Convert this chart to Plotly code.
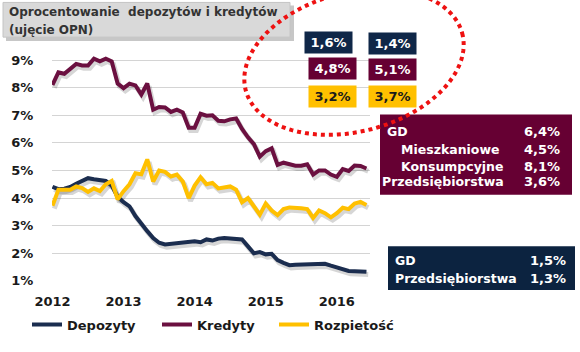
import numpy as np
import plotly.graph_objects as go

# ---------------- data (monthly, Jan 2012 - Jun 2016) ----------------
years = ["2012", "2013", "2014", "2015", "2016"]
depozyty = [4.41, 4.32, 4.34, 4.40, 4.52, 4.64, 4.72, 4.68, 4.66, 4.62, 4.45, 4.05,
            3.85, 3.70, 3.35, 3.05, 2.80, 2.55, 2.38, 2.32, 2.34, 2.37, 2.40, 2.42,
            2.43, 2.40, 2.50, 2.46, 2.53, 2.55, 2.54, 2.53, 2.50, 2.25, 2.00, 2.04,
            1.96, 1.98, 1.75, 1.65, 1.57, 1.58, 1.59, 1.59, 1.59, 1.61, 1.62, 1.55,
            1.48, 1.40, 1.36, 1.35, 1.34, 1.33]
kredyty = [8.10, 8.55, 8.50, 8.70, 8.86, 8.80, 8.80, 9.05, 8.95, 9.05, 8.95, 8.15,
           7.98, 8.14, 8.08, 7.75, 8.15, 7.20, 7.30, 7.28, 7.12, 7.20, 7.10, 6.55,
           6.55, 7.05, 6.98, 7.00, 6.80, 6.78, 6.85, 6.88, 6.50, 6.20, 5.95, 5.50,
           5.70, 5.80, 5.20, 5.28, 5.22, 5.17, 5.17, 5.22, 4.85, 5.00, 5.00, 4.85,
           4.77, 5.05, 4.98, 5.18, 5.16, 5.07]
rozpietosc = [3.72, 4.30, 4.30, 4.30, 4.42, 4.36, 4.22, 4.35, 4.25, 4.50, 4.62, 3.95,
              4.25, 4.50, 4.90, 4.86, 5.40, 4.60, 5.00, 4.95, 4.78, 4.85, 4.60, 4.00,
              4.45, 4.75, 4.50, 4.55, 4.35, 4.37, 4.42, 4.30, 3.85, 4.00, 3.70, 3.40,
              3.80, 3.55, 3.38, 3.60, 3.66, 3.66, 3.63, 3.60, 3.28, 3.55, 3.45, 3.30,
              3.45, 3.65, 3.60, 3.80, 3.86, 3.75]
series_names = ["Depozyty", "Kredyty", "Rozpietość"]
series_colors = ["#1b2d4f", "#6b1040", "#ffc000"]

small_boxes = [("1,6%", "#0f2748", "white"), ("1,4%", "#0f2748", "white"),
               ("4,8%", "#660033", "white"), ("5,1%", "#660033", "white"),
               ("3,2%", "#ffc000", "#1a1a1a"), ("3,7%", "#ffc000", "#1a1a1a")]
kred_labels = ["GD", "Mieszkaniowe", "Konsumpcyjne", "Przedsiębiorstwa"]
kred_values = ["6,4%", "4,5%", "8,1%", "3,6%"]
dep_labels = ["GD", "Przedsiębiorstwa"]
dep_values = ["1,5%", "1,3%"]

# ---------------- geometry ----------------
W, H = 580, 352
L, R, T, B = 52, 210, 52, 69
PW, PH = W - L - R, H - T - B
FONT = "DejaVu Sans"


def px(xp):
    return (xp - L) / PW


def py(yp):
    return (H - B - yp) / PH


x = list(range(len(depozyty)))
tickvals = [12 * k for k in range(len(years))]

fig = go.Figure()
all_series = [depozyty, kredyty, rozpietosc]
# soft shadows
for vals in all_series:
    fig.add_trace(go.Scatter(x=[v + 0.3 for v in x], y=[v - 0.1 for v in vals],
                             mode="lines", line=dict(color="rgba(0,0,0,0.16)", width=5),
                             showlegend=False, hoverinfo="skip"))
legend_ids = ["legend", "legend2", "legend3"]
for vals, name, col, lg in zip(all_series, series_names, series_colors, legend_ids):
    fig.add_trace(go.Scatter(x=x, y=vals, mode="lines", name=name,
                             line=dict(color=col, width=4), legend=lg))

shapes = []
# title box with shadow
shapes.append(dict(type="rect", xref="paper", yref="paper", x0=px(6), x1=px(294),
                   y0=py(41), y1=py(5), fillcolor="rgba(0,0,0,0.22)", line=dict(width=0),
                   layer="above"))
shapes.append(dict(type="rect", xref="paper", yref="paper", x0=px(3), x1=px(290),
                   y0=py(37), y1=py(2), fillcolor="#d9d9d9",
                   line=dict(color="#c4c4c4", width=1), layer="above"))
# maroon and navy boxes
shapes.append(dict(type="rect", xref="paper", yref="paper", x0=px(380), x1=px(572),
                   y0=py(196), y1=py(115), fillcolor="#660033", line=dict(width=0),
                   layer="above"))
shapes.append(dict(type="rect", xref="paper", yref="paper", x0=px(388), x1=px(575),
                   y0=py(292), y1=py(248), fillcolor="#0c2340", line=dict(width=0),
                   layer="above"))
# dotted ellipse
t = np.linspace(0, 2 * np.pi, 181)
cx, cy, a, b, th = 354, 62, 112, 70, np.deg2rad(-15)
ex = cx + a * np.cos(t) * np.cos(th) - b * np.sin(t) * np.sin(th)
ey = cy + a * np.cos(t) * np.sin(th) + b * np.sin(t) * np.cos(th)
path = "M" + " L".join(f"{px(u):.4f},{py(v):.4f}" for u, v in zip(ex, ey)) + " Z"
shapes.append(dict(type="path", xref="paper", yref="paper", path=path,
                   line=dict(color="#ee1111", width=4, dash="4px,4px"), layer="above"))

ann = []
ann.append(dict(text="Oprocentowanie  depozytów i kredytów", x=px(7), y=py(12),
                xanchor="left", yanchor="middle"))
ann.append(dict(text="(ujęcie OPN)", x=px(7), y=py(30), xanchor="left", yanchor="middle"))
for a_ in ann:
    a_.update(xref="paper", yref="paper", showarrow=False,
              font=dict(family=FONT, size=12, color="#333333", weight="bold"))

box_centers = [(328, 42), (392, 43), (332, 69), (392, 70), (332, 97), (392, 97)]
for (txt, bg, fc), (bx, by) in zip(small_boxes, box_centers):
    ann.append(dict(text=txt, x=px(bx), y=py(by), xref="paper", yref="paper",
                    showarrow=False, bgcolor=bg, width=47, height=21, borderpad=0,
                    xanchor="center", yanchor="middle",
                    font=dict(family=FONT, size=13, color=fc, weight="bold")))

kred_rows = [132, 150, 167, 183]
kred_pos = [(385, "left"), (450, "center"), (452, "center"), (443, "center")]
for lab, val, yy, (xx, anc) in zip(kred_labels, kred_values, kred_rows, kred_pos):
    ann.append(dict(text=lab, x=px(xx), y=py(yy), xanchor=anc, yanchor="middle",
                    xref="paper", yref="paper", showarrow=False,
                    font=dict(family=FONT, size=12.5, color="white", weight="bold")))
    ann.append(dict(text=val, x=px(562), y=py(yy), xanchor="right", yanchor="middle",
                    xref="paper", yref="paper", showarrow=False,
                    font=dict(family=FONT, size=13, color="white", weight="bold")))

for lab, val, yy in zip(dep_labels, dep_values, [262, 280]):
    ann.append(dict(text=lab, x=px(393), y=py(yy), xanchor="left", yanchor="middle",
                    xref="paper", yref="paper", showarrow=False,
                    font=dict(family=FONT, size=12.5, color="white", weight="bold")))
    ann.append(dict(text=val, x=px(568), y=py(yy), xanchor="right", yanchor="middle",
                    xref="paper", yref="paper", showarrow=False,
                    font=dict(family=FONT, size=13, color="white", weight="bold")))

legfont = dict(family=FONT, size=13, color="#1a1a1a", weight="bold")
legcommon = dict(orientation="h", yanchor="middle", xanchor="left", font=legfont,
                 bgcolor="rgba(0,0,0,0)", borderwidth=0, y=py(327))

fig.update_layout(
    width=W, height=H, margin=dict(l=L, r=R, t=T, b=B, pad=0),
    paper_bgcolor="white", plot_bgcolor="white",
    font=dict(family=FONT),
    xaxis=dict(range=[-0.08, 53.6], tickmode="array", tickvals=tickvals, ticktext=years,
               showgrid=False, zeroline=False, showline=False,
               ticks="outside", ticklen=8, tickcolor="rgba(0,0,0,0)",
               tickfont=dict(family=FONT, size=13, color="#1a1a1a", weight="bold")),
    yaxis=dict(range=[0.995, 9.29], tickmode="linear", tick0=1, dtick=1, ticksuffix="%",
               showgrid=True, gridcolor="#d4d4d4", gridwidth=1, zeroline=False,
               showline=False, ticks="outside", ticklen=15, tickcolor="rgba(0,0,0,0)",
               tickfont=dict(family=FONT, size=13, color="#1a1a1a", weight="bold")),
    shapes=shapes, annotations=ann,
    legend=dict(x=px(27), **legcommon),
    legend2=dict(x=px(157), **legcommon),
    legend3=dict(x=px(274), **legcommon),
)

fig.write_html("out.html")
